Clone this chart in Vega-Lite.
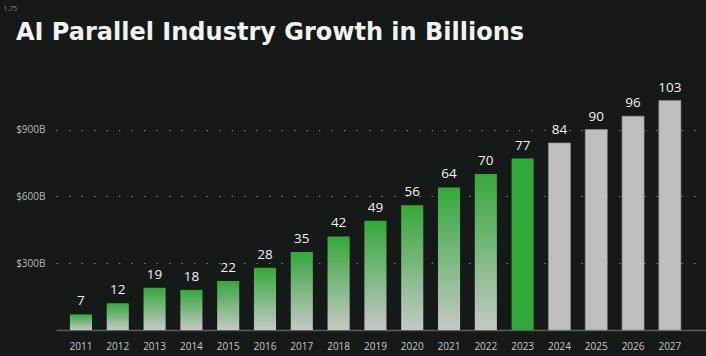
{
  "$schema": "https://vega.github.io/schema/vega-lite/v6.json",
  "autosize": "none",
  "width": 650,
  "height": 245,
  "padding": {"left": 56, "right": 0, "top": 85, "bottom": 26},
  "background": "#151a18",
  "title": {
    "text": "AI Parallel Industry Growth in Billions",
    "anchor": "start",
    "frame": "group",
    "dx": -40,
    "offset": -41,
    "font": "DejaVu Sans",
    "fontSize": 24,
    "fontWeight": "bold",
    "color": "#f2f2f2"
  },
  "config": {
    "view": {"stroke": null},
    "axis": {"labelFont": "Open Sans", "titleFont": "Open Sans"}
  },
  "data": {
    "values": [
      {"year": "2011", "value": 7, "kind": "past"},
      {"year": "2012", "value": 12, "kind": "past"},
      {"year": "2013", "value": 19, "kind": "past"},
      {"year": "2014", "value": 18, "kind": "past"},
      {"year": "2015", "value": 22, "kind": "past"},
      {"year": "2016", "value": 28, "kind": "past"},
      {"year": "2017", "value": 35, "kind": "past"},
      {"year": "2018", "value": 42, "kind": "past"},
      {"year": "2019", "value": 49, "kind": "past"},
      {"year": "2020", "value": 56, "kind": "past"},
      {"year": "2021", "value": 64, "kind": "past"},
      {"year": "2022", "value": 70, "kind": "past"},
      {"year": "2023", "value": 77, "kind": "current"},
      {"year": "2024", "value": 84, "kind": "forecast"},
      {"year": "2025", "value": 90, "kind": "forecast"},
      {"year": "2026", "value": 96, "kind": "forecast"},
      {"year": "2027", "value": 103, "kind": "forecast"}
    ]
  },
  "encoding": {
    "x": {
      "field": "year",
      "type": "ordinal",
      "scale": {"paddingInner": 0.4, "paddingOuter": 0.53, "align": 0.357},
      "axis": {
        "title": null,
        "labelAngle": 0,
        "ticks": false,
        "domain": true,
        "domainColor": "#5a5e5c",
        "domainWidth": 1.5,
        "labelColor": "#c8c8c8",
        "labelFontSize": 10,
        "labelPadding": 11
      }
    },
    "y": {
      "field": "value",
      "type": "quantitative",
      "scale": {"domain": [0, 110], "nice": false},
      "axis": {
        "title": "1.75",
        "titleAngle": 0,
        "titleAlign": "left",
        "titleBaseline": "middle",
        "titleX": -53,
        "titleY": -77,
        "titleFontSize": 7,
        "titleFontWeight": "normal",
        "titleColor": "#8a8a8a",
        "values": [30, 60, 90],
        "labelExpr": "'$' + datum.value * 10 + 'B'",
        "labelColor": "#b8b8b8",
        "labelFontSize": 10,
        "labelPadding": 11,
        "domain": false,
        "ticks": false,
        "grid": true,
        "gridColor": "#7a7e7c",
        "gridDash": [1.5, 11],
        "gridWidth": 1
      }
    }
  },
  "layer": [
    {
      "transform": [{"filter": "datum.kind === 'past'"}],
      "mark": {
        "type": "bar",
        "color": {
          "gradient": "linear",
          "x1": 0, "y1": 0, "x2": 0, "y2": 1,
          "stops": [
            {"offset": 0, "color": "#36a83b"},
            {"offset": 0.5, "color": "#7cb880"},
            {"offset": 1, "color": "#c6c8c6"}
          ]
        }
      }
    },
    {
      "transform": [{"filter": "datum.kind === 'current'"}],
      "mark": {"type": "bar", "color": "#33a83a"}
    },
    {
      "transform": [{"filter": "datum.kind === 'forecast'"}],
      "mark": {"type": "bar", "color": "#bebebf", "stroke": "#8e8e8e", "strokeWidth": 0.6}
    },
    {
      "mark": {"type": "text", "dy": -13, "color": "#f2f2f2", "font": "Open Sans", "fontSize": 13.5},
      "encoding": {"text": {"field": "value", "type": "quantitative"}}
    }
  ]
}
